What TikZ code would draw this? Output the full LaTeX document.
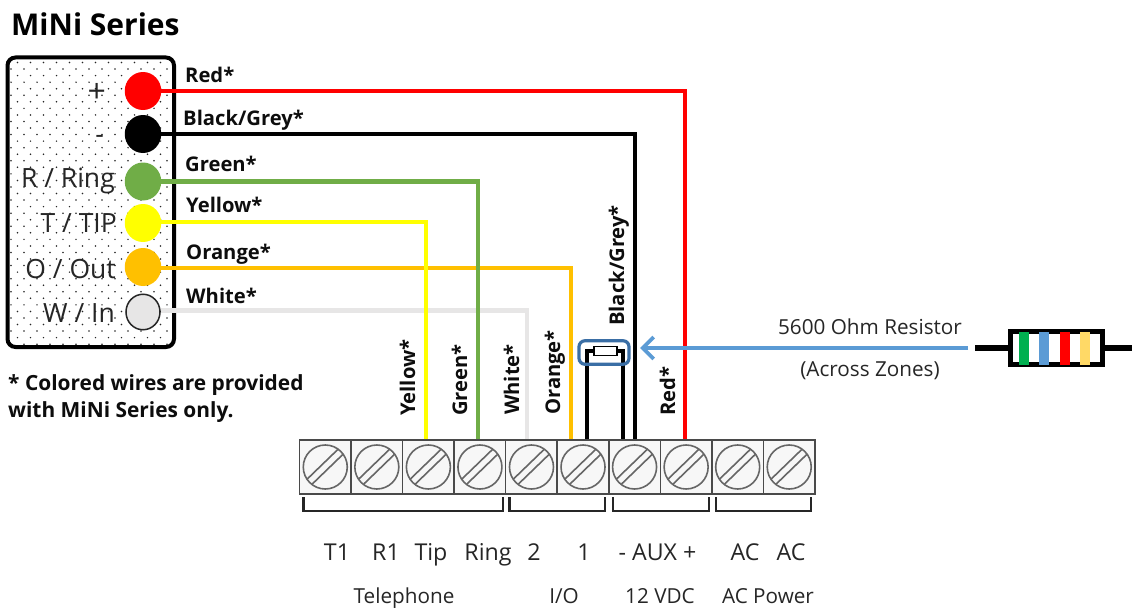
\documentclass[tikz,border=0pt]{standalone}
\usepackage{fontspec}
\setmainfont{Open Sans}
\usetikzlibrary{arrows.meta}
\definecolor{wred}{HTML}{FF0000}
\definecolor{wgreen}{HTML}{70AD47}
\definecolor{wyellow}{HTML}{FFFF00}
\definecolor{worange}{HTML}{FFC000}
\definecolor{wwhite}{HTML}{E7E6E6}
\definecolor{wblue}{HTML}{5B9BD5}
\definecolor{wdblue}{HTML}{3A6EA5}
\definecolor{bgreen}{HTML}{00B050}
\definecolor{byellow}{HTML}{FFD966}
\definecolor{tgrey}{HTML}{4A4A4A}
\definecolor{sgrey}{HTML}{666666}
\definecolor{tfill}{HTML}{F7F7F7}
\tikzset{
 wire/.style={line width=4.4pt,line join=miter},
 pin/.style={ellipse,inner sep=0pt,minimum width=36.5pt,minimum height=38pt,draw=none},
 wlabel/.style={font=\fontsize{20.2}{22}\selectfont\bfseries,anchor=base west,inner sep=0pt,text=black!95},
 vlabel/.style={font=\fontsize{20.2}{22}\selectfont\bfseries,rotate=90,anchor=base west,inner sep=0pt,text=black!95},
 pinlabel/.style={font=\fontsize{26.5}{28}\selectfont,anchor=base east,inner sep=0pt,text=black!85},
 tcell/.style={draw=tgrey,fill=tfill,line width=1.5pt,minimum width=51.5pt,minimum height=54pt,inner sep=0pt},
 screw/.style={circle,draw=sgrey,line width=1.6pt,minimum size=44pt,inner sep=0pt},
 slotline/.style={draw=sgrey,line width=1.6pt},
 bracket/.style={draw=black!85,line width=2.5pt},
 tlabel/.style={font=\fontsize{23.2}{26}\selectfont,anchor=base,inner sep=0pt,text=black!85},
 glabel/.style={font=\fontsize{20.7}{22}\selectfont,anchor=base,inner sep=0pt,text=black!85},
 rlabel/.style={font=\fontsize{20.7}{22}\selectfont,anchor=base,inner sep=0pt,text=black!85},
 notelabel/.style={font=\fontsize{20.9}{22}\selectfont\bfseries,anchor=base west,inner sep=0pt,text=black!95},
 band/.style={minimum width=10pt,minimum height=33pt,inner sep=0pt,draw=none},
}
\usetikzlibrary{shapes.geometric}
\begin{document}
\begin{tikzpicture}[x=1pt,y=-1pt]
\useasboundingbox[fill=white] (0,0) rectangle (1132,610);
% title
\node[font=\fontsize{30}{32}\selectfont\bfseries,anchor=base west,inner sep=0pt] (title) at (11,36) {MiNi Series};
% panel dots
\begin{scope}
\clip (9,59) rectangle (172,345);
\foreach \r in {0,...,44}{
  \pgfmathsetmacro{\yy}{62.5+6.55*\r}
  \pgfmathsetmacro{\off}{mod(\r,2)*6.5}
  \foreach \c in {0,...,13}{
    \fill[black!85] ({4.5+\off+13*\c},\yy) circle (0.85pt);
  }
}
\end{scope}
\draw[black,line width=4pt,rounded corners=8pt] (7.5,57.5) rectangle (174,347);
% pins
\node[pin,fill=wred] (pred) at (143,91) {};
\node[pin,fill=black] (pblk) at (143,134) {};
\node[pin,fill=wgreen] (pgrn) at (143,181.5) {};
\node[pin,fill=wyellow] (pyel) at (143,223) {};
\node[pin,fill=worange] (pora) at (143,267) {};
\node[pin,fill=wwhite,draw=black!85,line width=1.5pt,minimum width=34pt,minimum height=35.5pt] (pwht) at (143,312) {};
% terminals
\foreach \i in {1,...,10}{
  \pgfmathsetmacro{\tx}{299.5+51.55*(\i-0.5)}
  \node[tcell] (t\i) at (\tx,467) {};
}
\foreach \i in {1,...,10}{
  \node[screw] (s\i) at (t\i.center) {};
  \draw[slotline] ([shift={(-18,12)}]s\i.center) -- ([shift={(12.5,-17.5)}]s\i.center);
  \draw[slotline] ([shift={(-13,17)}]s\i.center) -- ([shift={(18,-13)}]s\i.center);
}
% wire ends
\coordinate (ered) at (685,439);
\coordinate (eblk) at (635,439);
\coordinate (egrn) at (478,439);
\coordinate (eyel) at (426,439);
\coordinate (eora) at (571,439);
\coordinate (ewht) at (527,439);
% wires
\draw[wire,wwhite] (pwht.east) ++(0,-1.5) -| (ewht);
\draw[wire,worange] (pora.center) ++(0,1) -| (eora);
\draw[wire,wyellow] (pyel.center) ++(0,-1) -| (eyel);
\draw[wire,wgreen] (pgrn.center) -| (egrn);
\draw[wire,black] (pblk.center) -| (eblk);
\draw[wire,wred] (pred.center) -| (ered);
% jumper resistor
\coordinate (jl) at (587,439);
\coordinate (jr) at (623,439);
\node[draw=black,fill=white,line width=1.2pt,minimum width=23pt,minimum height=9.5pt,inner sep=0pt] (jbody) at (605.5,351) {};
\draw[black,line width=4pt] (jl) |- (jbody.west);
\draw[black,line width=4pt] (jr) |- (jbody.east);
\node[draw=wdblue,line width=3.2pt,rounded corners=6pt,minimum width=50pt,minimum height=23.5pt,inner sep=0pt] (jbox) at (604,352.5) {};
% big resistor
\node[draw=black,fill=white,line width=5pt,minimum width=92pt,minimum height=33pt,inner sep=0pt] (res) at (1056,348) {};
\node[band,fill=bgreen] (b1) at (1024,348) {};
\node[band,fill=wblue] (b2) at (1044,348) {};
\node[band,fill=wred] (b3) at (1065,348) {};
\node[band,fill=byellow] (b4) at (1085,348) {};
\coordinate (ll) at (975,348);
\coordinate (lr) at (1132,348);
\draw[black,line width=6pt] (ll) -- (res.west);
\draw[black,line width=6pt] (res.east) -- (lr);
% arrow
\coordinate (astart) at (968,348);
\coordinate (aend) at (640,348);
\draw[wblue,line width=3.8pt,-{Straight Barb[length=11pt,width=22pt,line width=3.8pt]}] (astart) -- (aend);
% wire labels
\node[wlabel] (lred) at (185,82) {Red*};
\node[wlabel] (lblk) at (183,125) {Black/Grey*};
\node[wlabel] (lgrn) at (185,171) {Green*};
\node[wlabel] (lyel) at (186,212) {Yellow*};
\node[wlabel] (lora) at (186,259) {Orange*};
\node[wlabel] (lwht) at (186,303) {White*};
% vertical labels
\node[vlabel] (vblk) at (624,326) {Black/Grey*};
\node[vlabel] (vyel) at (415,416) {Yellow*};
\node[vlabel] (vgrn) at (467,416) {Green*};
\node[vlabel] (vwht) at (519,415) {White*};
\node[vlabel] (vora) at (560,415) {Orange*};
\node[vlabel] (vred) at (675,416) {Red*};
% pin labels
\node[pinlabel,font=\fontsize{32}{34}\selectfont] (lp) at (106,102) {+};
\node[pinlabel] (lm) at (104,143) {-};
\node[pinlabel] (lr1) at (115,187) {R / Ring};
\node[pinlabel] (lt1) at (117,232) {T / TIP};
\node[pinlabel] (lo1) at (116,278) {O / Out};
\node[pinlabel] (lw1) at (115,322) {W / In};
% note
\node[notelabel] (n1) at (8,390) {* Colored wires are provided};
\node[notelabel] (n2) at (8,417) {with MiNi Series only.};
% brackets
\draw[bracket] (303.5,497) |- (503,511) -- (503,497);
\draw[bracket] (509.5,497) |- (605,511) -- (605,497);
\draw[bracket] (613,497) |- (709,511) -- (709,497);
\draw[bracket] (716,497) |- (811,511) -- (811,497);
% terminal labels
\node[tlabel] (a1) at (337,560) {T1};
\node[tlabel] (a2) at (386,560) {R1};
\node[tlabel] (a3) at (431,560) {Tip};
\node[tlabel] (a4) at (488,560) {Ring};
\node[tlabel] (a5) at (534,560) {2};
\node[tlabel] (a6) at (584,560) {1};
\node[tlabel] (a7) at (657.5,560) {- AUX +};
\node[tlabel] (a8) at (745,560) {AC};
\node[tlabel] (a9) at (791,560) {AC};
\node[glabel] (g1) at (404,603) {Telephone};
\node[glabel] (g2) at (564,603) {I/O};
\node[glabel] (g3) at (660,603) {12 VDC};
\node[glabel] (g4) at (768,603) {AC Power};
\node[rlabel] (r1) at (870,334) {5600 Ohm Resistor};
\node[rlabel] (r2) at (870,376) {(Across Zones)};
\end{tikzpicture}
\end{document}
